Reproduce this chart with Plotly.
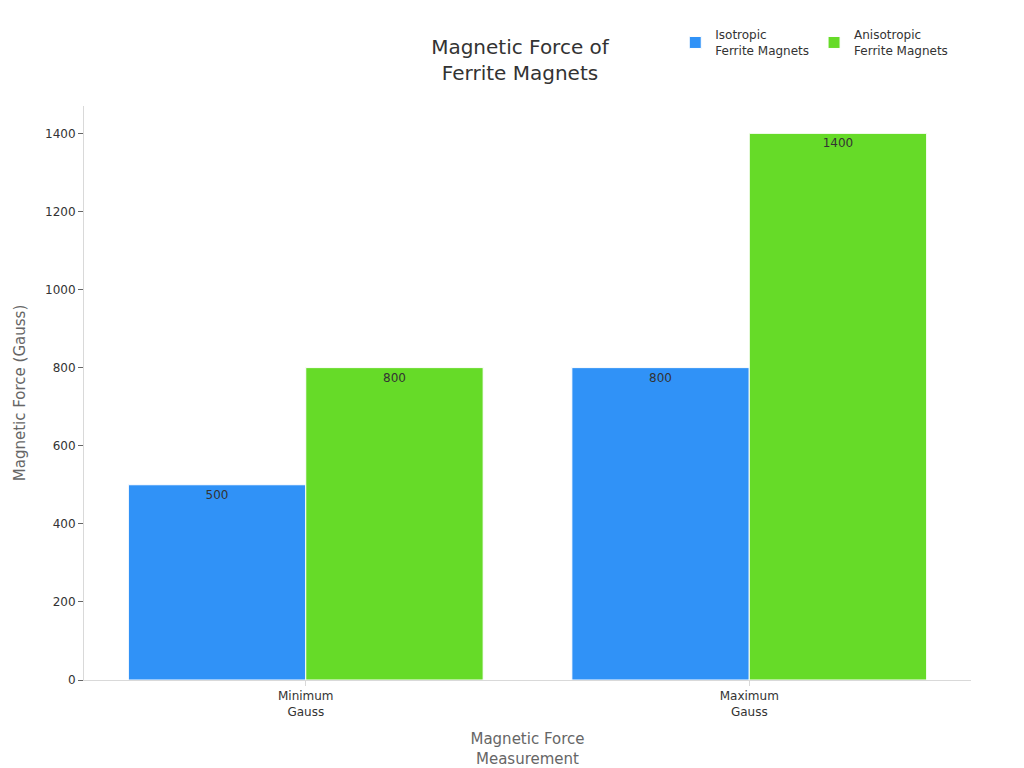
import plotly.graph_objects as go

categories = ["Minimum<br>Gauss", "Maximum<br>Gauss"]
isotropic = [500, 800]
anisotropic = [800, 1400]

fig = go.Figure()
fig.add_trace(go.Bar(x=categories, y=isotropic, name="Isotropic<br>Ferrite Magnets",
                     marker=dict(color="#3092F7", line=dict(color="white", width=1)),
                     text=isotropic, textposition="inside", insidetextanchor="end",
                     textfont=dict(color="#333333", size=12)))
fig.add_trace(go.Bar(x=categories, y=anisotropic, name="Anisotropic<br>Ferrite Magnets",
                     marker=dict(color="#66DB28", line=dict(color="white", width=1)),
                     text=anisotropic, textposition="inside", insidetextanchor="end",
                     textfont=dict(color="#333333", size=12)))

fig.update_layout(
    width=1024, height=768,
    font=dict(family="DejaVu Sans", color="#333333", size=12),
    title=dict(text="Magnetic Force of<br>Ferrite Magnets", x=0.5, xanchor="center", y=0.94,
               font=dict(size=20, color="#333333")),
    plot_bgcolor="white", paper_bgcolor="white",
    bargap=0.2, bargroupgap=0,
    margin=dict(l=76, r=61, t=80, b=94),
    legend=dict(orientation="h", x=0.98, xanchor="right", y=1.11, yanchor="middle",
                font=dict(size=12)),
    xaxis=dict(title=dict(text="Magnetic Force<br>Measurement", font=dict(size=15, color="#666666")),
               showline=True, linecolor="#d9d9d9", ticks="outside", tickcolor="#d9d9d9"),
    yaxis=dict(title=dict(text="Magnetic Force (Gauss)", font=dict(size=15, color="#666666")),
               showline=True, linecolor="#d9d9d9", ticks="outside", tickcolor="#666666",
               showgrid=False, zeroline=False, range=[0, 1470], dtick=200),
)

fig.write_html("out.html")
